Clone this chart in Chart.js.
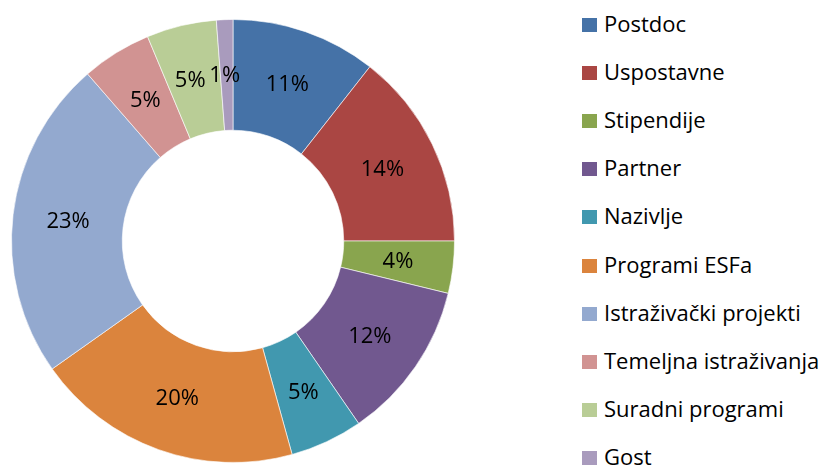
<!DOCTYPE html>
<html>
<head>
<meta charset="utf-8">
<script src="https://cdn.jsdelivr.net/npm/chart.js@4"></script>
<style>
    body { margin: 0; background: #fff; width: 832px; height: 466px; overflow: hidden; position: relative; }
    #chartBox { position: absolute; left: 0; top: 0; width: 466px; height: 466px; }
    #legend { position: absolute; left: 582px; top: 0; margin: 0; padding: 0; list-style: none; }
    #legend li { position: absolute; left: 0; height: 30px; white-space: nowrap;
        font-family: "Open Sans", sans-serif; font-size: 22px; color: #000; line-height: 30px; }
    #legend span { display: inline-block; width: 15px; height: 14px; margin-right: 7px; vertical-align: 0px; }
</style>
</head>
<body>
<div id="chartBox"><canvas id="chartContainer"></canvas></div>
<ul id="legend"></ul>
<script>
// data (share of total, %)
const categories = ['Postdoc', 'Uspostavne', 'Stipendije', 'Partner', 'Nazivlje',
    'Programi ESFa', 'Istraživački projekti', 'Temeljna istraživanja', 'Suradni programi', 'Gost'];
const shares = [10.6, 14.4, 3.8, 11.6, 5.3, 19.5, 23.4, 5.1, 5.1, 1.2];
const colors = ['#4572A7', '#AA4643', '#89A54E', '#71588F', '#4198AF',
    '#DB843D', '#93A9CF', '#D19392', '#B9CD96', '#A99BBD'];

document.addEventListener('DOMContentLoaded', function () {
    const total = shares.reduce((a, b) => a + b, 0);

    // percent labels in the middle of each ring segment
    const sliceLabels = {
        id: 'sliceLabels',
        afterDatasetsDraw(chart) {
            const ctx = chart.ctx;
            const meta = chart.getDatasetMeta(0);
            ctx.save();
            ctx.font = '22px "Open Sans", sans-serif';
            ctx.fillStyle = '#000';
            ctx.textAlign = 'center';
            ctx.textBaseline = 'middle';
            meta.data.forEach((arc, i) => {
                const pos = arc.tooltipPosition();
                let x = pos.x;
                // small top slices sit closer together, nudge like the original
                if (i === 8) x -= 4;
                if (i === 9) x -= 2;
                ctx.fillText(Math.round(shares[i] / total * 100) + '%', x, pos.y + 1);
            });
            ctx.restore();
        }
    };

    const ctx = document.getElementById('chartContainer').getContext('2d');
    new Chart(ctx, {
        type: 'doughnut',
        data: {
            labels: categories,
            datasets: [{
                data: shares,
                backgroundColor: colors,
                borderColor: 'rgba(255,255,255,0.6)',
                borderWidth: 1
            }]
        },
        options: {
            responsive: true,
            maintainAspectRatio: false,
            animation: false,
            cutout: '50%',
            layout: { padding: { top: 19, bottom: 3, left: 11, right: 11 } },
            plugins: {
                legend: { display: false },
                tooltip: { enabled: false }
            }
        },
        plugins: [sliceLabels]
    });

    // legend on the right
    const legend = document.getElementById('legend');
    categories.forEach((name, i) => {
        const li = document.createElement('li');
        li.style.top = (8 + i * 48.1) + 'px';
        const box = document.createElement('span');
        box.style.background = colors[i];
        li.appendChild(box);
        li.appendChild(document.createTextNode(name));
        legend.appendChild(li);
    });
});
</script>
</body>
</html>
